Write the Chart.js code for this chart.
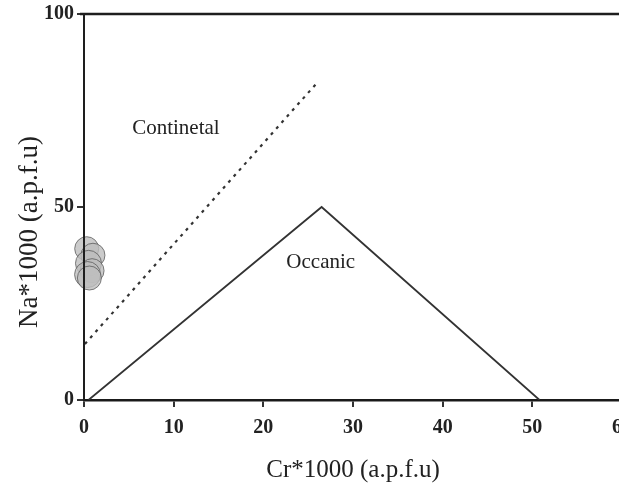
<!DOCTYPE html>
<html>
<head>
<meta charset="utf-8">
<title>Na vs Cr</title>
<script src="https://cdn.jsdelivr.net/npm/chart.js@4.4.1/dist/chart.umd.min.js"></script>
<style>
    html, body { margin: 0; padding: 0; background: #fff; overflow: hidden; }
    #wrap { width: 619px; height: 489px; overflow: hidden; }
</style>
</head>
<body>
<div id="wrap"><canvas id="naCrChart" width="641" height="489"></canvas></div>
<script>
// tick labels
var xTicks = [0, 10, 20, 30, 40, 50, 60];
var yTicks = [0, 50, 100];

// field boundaries
var oceanicX = [0.5, 26.5, 50.8];
var oceanicY = [0, 50, 0];
var continentalX = [0.1, 26.0];
var continentalY = [14.5, 82.2];

// analysed samples (Cr, Na, marker radius)
var sampleX = [0.3, 1.0, 0.5, 0.9, 0.4, 0.6];
var sampleY = [39.2, 37.5, 35.4, 33.5, 32.5, 31.6];
var sampleR = [12, 12, 13, 12, 13, 12];

// field names
var fieldNames = ['Continetal', 'Occanic'];
var fieldNameX = [10.25, 26.4];
var fieldNameY = [70.3, 35.7];

var yTitle = 'Na*1000 (a.p.f.u)';

function toPoints(xs, ys) {
    return xs.map(function (x, i) { return { x: x, y: ys[i] }; });
}

var serif = "'Liberation Serif', 'DejaVu Serif', serif";

// field names, top frame line, left axis over the samples, rotated y title
var fieldLabels = {
    id: 'fieldLabels',
    afterDatasetsDraw: function (chart) {
        var ctx = chart.ctx;
        var sx = chart.scales.x, sy = chart.scales.y;
        var area = chart.chartArea;
        ctx.save();
        ctx.strokeStyle = '#1e1e1e';
        ctx.lineWidth = 2.5;
        ctx.beginPath();
        ctx.moveTo(area.left - 4, area.top);
        ctx.lineTo(chart.width, area.top);
        ctx.stroke();

        ctx.lineWidth = 2;
        ctx.beginPath();
        ctx.moveTo(area.left, area.top);
        ctx.lineTo(area.left, area.bottom);
        ctx.stroke();

        ctx.fillStyle = '#222';
        ctx.font = '21px ' + serif;
        ctx.textAlign = 'center';
        ctx.textBaseline = 'middle';
        fieldNames.forEach(function (name, i) {
            ctx.fillText(name, sx.getPixelForValue(fieldNameX[i]), sy.getPixelForValue(fieldNameY[i]));
        });

        ctx.translate(30, 232);
        ctx.rotate(-Math.PI / 2);
        ctx.font = '27px ' + serif;
        ctx.fillText(yTitle, 0, 0);
        ctx.restore();
    }
};

var naCrChart = new Chart(document.getElementById('naCrChart'), {
    type: 'line',
    data: {
        datasets: [
            {
                type: 'bubble',
                data: sampleX.map(function (x, i) { return { x: x, y: sampleY[i], r: sampleR[i] }; }),
                backgroundColor: 'rgba(190, 190, 190, 0.8)',
                borderColor: 'rgba(85, 85, 85, 0.75)',
                borderWidth: 1,
                clip: false,
                order: 1
            },
            {
                data: toPoints(oceanicX, oceanicY),
                borderColor: '#333',
                borderWidth: 1.8,
                pointRadius: 0,
                fill: false,
                tension: 0,
                order: 2
            },
            {
                data: toPoints(continentalX, continentalY),
                borderColor: '#333',
                borderWidth: 2.2,
                borderDash: [3, 5],
                pointRadius: 0,
                fill: false,
                tension: 0,
                order: 2
            }
        ]
    },
    options: {
        responsive: false,
        animation: false,
        layout: { padding: { top: 13, right: 3, left: 0, bottom: 0 } },
        plugins: {
            legend: { display: false },
            tooltip: { enabled: false }
        },
        scales: {
            x: {
                type: 'linear',
                min: 0,
                max: 60,
                afterBuildTicks: function (scale) {
                    scale.ticks = xTicks.map(function (v) { return { value: v }; });
                },
                afterFit: function (scale) {
                    scale.height = 89;
                },
                grid: { drawOnChartArea: false, tickLength: 7, color: '#333', lineWidth: 2 },
                border: { color: '#1a1a1a', width: 2.5 },
                ticks: {
                    color: '#222',
                    padding: 9,
                    maxRotation: 0,
                    font: { family: serif, size: 20, weight: 'bold' }
                },
                title: {
                    display: true,
                    text: 'Cr*1000 (a.p.f.u)',
                    color: '#222',
                    padding: { top: 12 },
                    font: { family: serif, size: 25 }
                }
            },
            y: {
                type: 'linear',
                min: 0,
                max: 100,
                afterBuildTicks: function (scale) {
                    scale.ticks = yTicks.map(function (v) { return { value: v }; });
                },
                afterFit: function (scale) {
                    scale.width = 84;
                    scale.paddingTop = 0;
                },
                grid: { drawOnChartArea: false, tickLength: 7, color: '#333', lineWidth: 2 },
                border: { color: '#1a1a1a', width: 2 },
                ticks: {
                    color: '#222',
                    padding: 3,
                    font: { family: serif, size: 20, weight: 'bold' }
                }
            }
        }
    },
    plugins: [fieldLabels]
});
</script>
</body>
</html>
